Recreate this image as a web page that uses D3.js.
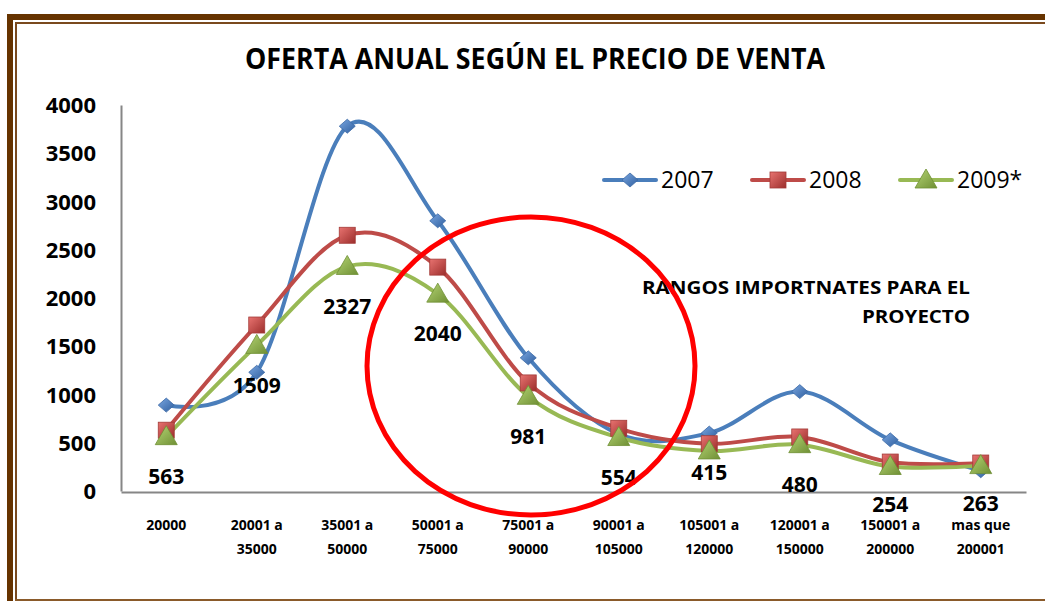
<!DOCTYPE html>
<html>
<head>
<meta charset="utf-8">
<script src="https://cdn.jsdelivr.net/npm/d3@7"></script>
<style>
body { margin: 0; background: #fff; }
svg text { font-family: "Open Sans", "DejaVu Sans", sans-serif; fill: #000; }
</style>
</head>
<body>
<svg id="chart" width="1045" height="601"></svg>
<script>
/* Data */
var categories = ["20000", "20001 a|35000", "35001 a|50000", "50001 a|75000", "75001 a|90000",
                  "90001 a|105000", "105001 a|120000", "120001 a|150000", "150001 a|200000", "mas que|200001"];
var years = ["2007", "2008", "2009*"];
var values2007 = [890, 1230, 3780, 2800, 1380, 590, 600, 1030, 530, 210];
var values2008 = [630, 1720, 2650, 2320, 1120, 650, 490, 560, 300, 290];
var values2009 = [563, 1509, 2327, 2040, 981, 554, 415, 480, 254, 263];
var yTicks = [0, 500, 1000, 1500, 2000, 2500, 3000, 3500, 4000];

var series = [
	{name: years[0], values: values2007, color: "#4a7ebb", marker: "diamond", grad: ["#7aa6e0", "#2f5f9f"]},
	{name: years[1], values: values2008, color: "#be4b48", marker: "square", grad: ["#e87370", "#9c2e2c"]},
	{name: years[2], values: values2009, color: "#98b954", marker: "triangle", grad: ["#b5d575", "#6f8f34"]}
];

var svg = d3.select("#chart");
var brown = "#663300";

/* Frame */
svg.append("rect").attr("x", 7).attr("y", 14).attr("width", 1038).attr("height", 6).attr("fill", brown);
svg.append("rect").attr("x", 7).attr("y", 14).attr("width", 6).attr("height", 587).attr("fill", brown);
svg.append("rect").attr("x", 15).attr("y", 22).attr("width", 1030).attr("height", 2).attr("fill", "#7a4a1e");
svg.append("rect").attr("x", 15).attr("y", 22).attr("width", 2).attr("height", 579).attr("fill", "#7a4a1e");
svg.append("rect").attr("x", 15).attr("y", 599).attr("width", 1030).attr("height", 2).attr("fill", "#8a5a2a");

/* Gradients */
var defs = svg.append("defs");
series.forEach(function(s, i) {
	var g = defs.append("linearGradient").attr("id", "grad" + i)
		.attr("x1", "0%").attr("y1", "0%").attr("x2", "100%").attr("y2", "100%");
	g.append("stop").attr("offset", "0%").attr("stop-color", s.grad[0]);
	g.append("stop").attr("offset", "100%").attr("stop-color", s.grad[1]);
});

/* Scales */
var x = d3.scaleBand().domain(categories).range([121, 1026]).padding(0);
var cx = function(c) { return x(c) + x.bandwidth() / 2; };
var y = d3.scaleLinear().domain([0, 4000]).range([491, 105]);

/* Title */
svg.append("text").attr("x", 535).attr("y", 69).attr("text-anchor", "middle")
	.attr("font-size", 28).attr("font-weight", "bold")
	.attr("textLength", 580).attr("lengthAdjust", "spacingAndGlyphs")
	.text("OFERTA ANUAL SEGÚN EL PRECIO DE VENTA");

/* Axes */
var yAxis = svg.append("g").attr("transform", "translate(121,0)")
	.call(d3.axisLeft(y).tickValues(yTicks).tickSize(0).tickPadding(25).tickFormat(d3.format("d")));
yAxis.select(".domain").attr("stroke", "#868686").attr("stroke-width", 2);
yAxis.selectAll("text").attr("font-size", 22).attr("font-weight", "bold").attr("dy", "0.35em");

var xAxis = svg.append("g").attr("transform", "translate(0,492)")
	.call(d3.axisBottom(x).tickSize(0).tickFormat(""));
xAxis.select(".domain").attr("stroke", "#868686").attr("stroke-width", 2);
xAxis.selectAll(".tick").each(function(c) {
	var t = d3.select(this).select("text").attr("font-size", 14).attr("font-weight", "bold")
		.attr("y", 0).attr("dy", null);
	c.split("|").forEach(function(part, k) {
		t.append("tspan").attr("x", 0).attr("y", 38 + k * 24).text(part);
	});
});

/* Lines */
var line = d3.line()
	.x(function(d, i) { return cx(categories[i]); })
	.y(function(d) { return y(d); })
	.curve(d3.curveCatmullRom.alpha(0));

series.forEach(function(s) {
	svg.append("path").datum(s.values)
		.attr("fill", "none").attr("stroke", s.color).attr("stroke-width", 4)
		.attr("stroke-linecap", "round").attr("d", line);
});

/* Markers */
function drawMarker(g, type, fill, px, py) {
	if (type === "diamond") {
		g.append("path").attr("d", "M" + px + "," + (py - 7) + "L" + (px + 8) + "," + py +
			"L" + px + "," + (py + 7) + "L" + (px - 8) + "," + py + "Z")
			.attr("fill", fill).attr("stroke", "#3c6aa6").attr("stroke-width", 0.8);
	} else if (type === "square") {
		g.append("rect").attr("x", px - 8).attr("y", py - 8)
			.attr("width", 16).attr("height", 16)
			.attr("fill", fill).attr("stroke", "#a33b38").attr("stroke-width", 0.8);
	} else {
		g.append("path").attr("d", "M" + px + "," + (py - 11) + "L" + (px + 11) + "," + (py + 8) +
			"L" + (px - 11) + "," + (py + 8) + "Z")
			.attr("fill", fill).attr("stroke", "#6f8f34").attr("stroke-width", 0.8);
	}
}

series.forEach(function(s, i) {
	var g = svg.append("g");
	s.values.forEach(function(v, j) {
		drawMarker(g, s.marker, "url(#grad" + i + ")", cx(categories[j]), y(v));
	});
});

/* Data labels for 2009* */
svg.append("g").selectAll("text").data(values2009).enter().append("text")
	.attr("x", function(d, i) { return cx(categories[i]); })
	.attr("y", function(d, i) { return y(d) + (i === 6 ? 22 : (i >= 8 ? 38 : 40)); })
	.attr("dy", "0.35em").attr("text-anchor", "middle")
	.attr("font-size", 21).attr("font-weight", "bold")
	.text(function(d) { return d; });

/* Legend */
var legendX = [604, 752, 900];
series.forEach(function(s, i) {
	var lx = legendX[i];
	svg.append("line").attr("x1", lx).attr("x2", lx + 52).attr("y1", 180).attr("y2", 180)
		.attr("stroke", s.color).attr("stroke-width", 4).attr("stroke-linecap", "round");
	drawMarker(svg, s.marker, "url(#grad" + i + ")", lx + 26, 180);
	svg.append("text").attr("x", lx + 57).attr("y", 180).attr("dy", "0.35em")
		.attr("font-size", 23).text(s.name);
});

/* Annotation */
svg.append("text").attr("x", 970).attr("y", 294).attr("text-anchor", "end")
	.attr("font-size", 18).attr("font-weight", "bold")
	.attr("textLength", 328).attr("lengthAdjust", "spacingAndGlyphs")
	.text("RANGOS IMPORTNATES PARA EL");
svg.append("text").attr("x", 970).attr("y", 323).attr("text-anchor", "end")
	.attr("font-size", 18).attr("font-weight", "bold")
	.attr("textLength", 108).attr("lengthAdjust", "spacingAndGlyphs")
	.text("PROYECTO");

/* Red circle */
svg.append("ellipse").attr("cx", 531).attr("cy", 366).attr("rx", 164).attr("ry", 149)
	.attr("fill", "none").attr("stroke", "#ff0000").attr("stroke-width", 5);
</script>
</body>
</html>
